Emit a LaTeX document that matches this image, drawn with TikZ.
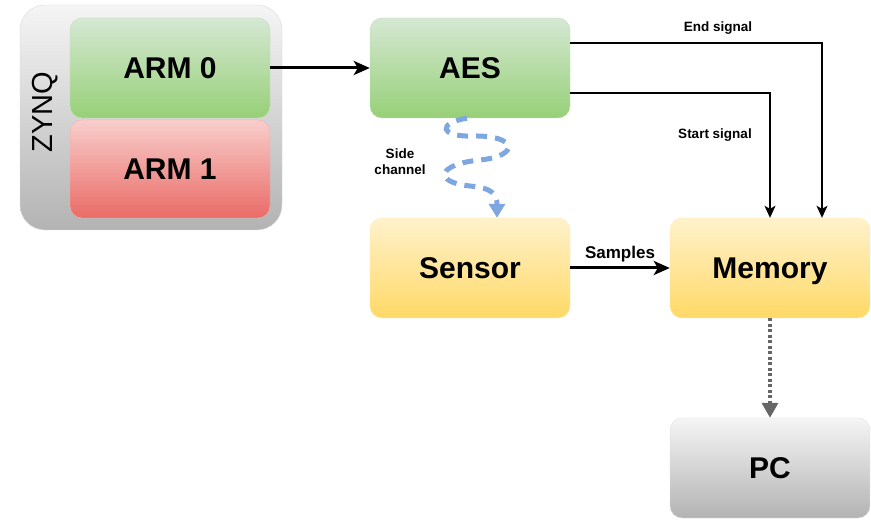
\documentclass[tikz,border=0pt]{standalone}
\usepackage{fontspec}
\setmainfont{Liberation Sans}
\usetikzlibrary{arrows.meta}
\usetikzlibrary{positioning}

\definecolor{greentop}{HTML}{D5E8D4}
\definecolor{greenbot}{HTML}{97D077}
\definecolor{redtop}{HTML}{F8CECC}
\definecolor{redbot}{HTML}{EA6B66}
\definecolor{yeltop}{HTML}{FFF2CC}
\definecolor{yelbot}{HTML}{FFD966}
\definecolor{graytop}{HTML}{F5F5F5}
\definecolor{graybot}{HTML}{B3B3B3}
\definecolor{sideblue}{HTML}{7EA6E0}
\definecolor{dotgray}{HTML}{666666}

\begin{document}
\begin{tikzpicture}[x=1pt,y=-1pt]
\tikzstyle{blk} = [rounded corners=12pt, minimum width=200pt, minimum height=100pt,
  inner sep=0pt, text height=21pt, text depth=0pt, font=\fontsize{30}{34}\selectfont\bfseries]
\tikzstyle{green} = [blk, top color=greentop, bottom color=greenbot, draw=greentop!70!greenbot]
\tikzstyle{red} = [blk, top color=redtop, bottom color=redbot, draw=redtop!70!redbot]
\tikzstyle{yel} = [blk, top color=yeltop, bottom color=yelbot, draw=yeltop!70!yelbot]
\tikzstyle{grey} = [blk, top color=graytop, bottom color=graybot, draw=graytop!70!graybot]
\tikzstyle{lbl} = [font=\fontsize{13.5}{16}\selectfont\bfseries, align=center]
\tikzstyle{fat} = [line width=3pt, -{Stealth[length=16pt,width=14pt,inset=4pt]}]
\tikzstyle{sig} = [line width=1.3pt, -{Stealth[length=12pt,width=11pt,inset=3pt]}]

\useasboundingbox (0,0) rectangle (871,521);

% zynq chip
\node[rounded corners=25pt, minimum width=262pt, minimum height=225pt,
  top color=graytop, bottom color=graybot, draw=graytop!60!graybot] (zynq) at (151,117.5) {};
\node[rotate=90, font=\fontsize{29}{32}\selectfont] (zynqlbl) at (45,112) {ZYNQ};
\node[green] (arm0) at (170,68) {ARM 0};
\node[red, minimum height=98pt] (arm1) at (170,169) {ARM 1};

% other blocks
\node[green] (aes) at (470,68) {AES};
\node[yel] (sensor) at (470,268) {Sensor};
\node[yel] (memory) at (770,268) {Memory};
\node[grey] (pc) at (770,468) {PC};

\draw[fat] (arm0) -- (aes);
\draw[fat] (sensor) -- (memory) node[midway, above=1pt, font=\fontsize{17}{20}\selectfont\bfseries] (samples) {Samples};

\draw[sig] ([yshift=25pt]aes.east) -| ([xshift=52pt]memory.north);
\draw[sig] ([yshift=-25pt]aes.east) -| (memory.north);
\node[lbl] (endlbl) at (718,28) {End signal};
\node[lbl] (startlbl) at (715,135) {Start signal};

% side channel
\draw[sideblue, line width=5pt, dash pattern=on 11pt off 8pt,
  -{Triangle[length=14pt,width=16pt]}]
  ([xshift=-3pt]aes.south) .. controls (437,123) and (440,137) .. (472,136)
  .. controls (518,135) and (520,156) .. (480,160)
  .. controls (438,164) and (432,182) .. (470,186)
  .. controls (492,188) and (497,194) .. ([xshift=27pt]sensor.north);
\node[lbl] (sidelbl) at (400,162) {Side\\channel};

% readout
\draw[dotgray, line width=3.5pt, dash pattern=on 3pt off 2.5pt,
  -{Triangle[length=15pt,width=16pt]}] (memory) -- (pc);

\end{tikzpicture}
\end{document}
